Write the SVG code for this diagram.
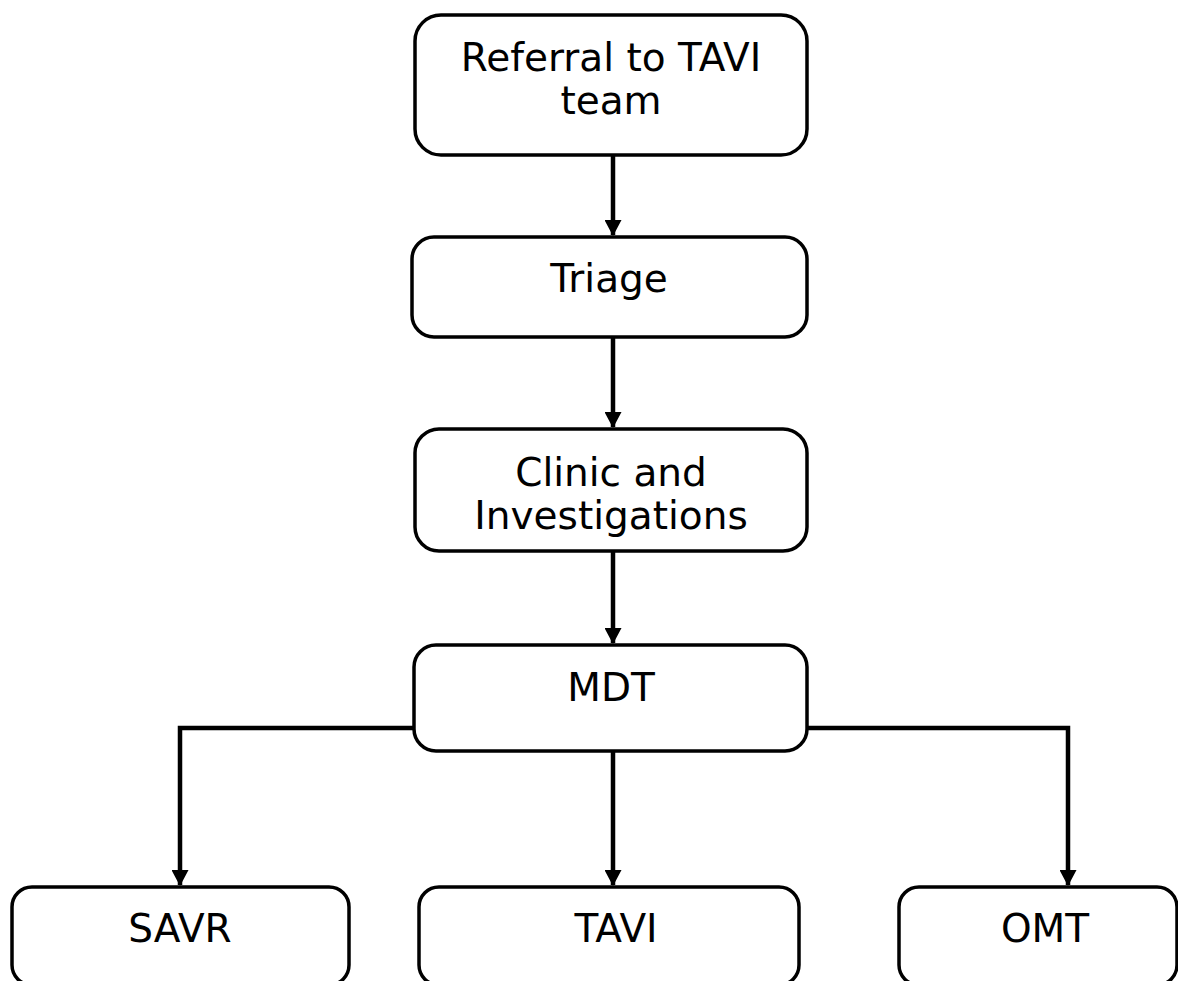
<svg xmlns="http://www.w3.org/2000/svg" width="1178" height="981" viewBox="0 0 1178 981">
<style>
.box{fill:#fff;stroke:#000;stroke-width:3.5}
.lbl{font-family:"DejaVu Sans",Verdana,sans-serif;font-size:39px;fill:#000;text-anchor:middle}
.conn{fill:none;stroke:#000;stroke-width:4.5}
</style>
<defs>
<marker id="ah" markerUnits="userSpaceOnUse" markerWidth="18" markerHeight="17" refX="15" refY="8.5" orient="auto" viewBox="0 0 16 17">
<path d="M0,0 L16,8.5 L0,17 Z" fill="#000"/>
</marker>
</defs>
<rect width="1178" height="981" fill="#fff"/>
<g id="connectors">
<path class="conn" d="M613,155 V235" marker-end="url(#ah)"/>
<path class="conn" d="M613,337 V427" marker-end="url(#ah)"/>
<path class="conn" d="M613,551 V643" marker-end="url(#ah)"/>
<path class="conn" d="M613,751 V885" marker-end="url(#ah)"/>
<path class="conn" d="M414,728 H180 V885" marker-end="url(#ah)"/>
<path class="conn" d="M807,728 H1068 V885" marker-end="url(#ah)"/>
</g>
<g id="referral">
<rect class="box" x="415" y="15" width="392" height="140" rx="26"/>
<text class="lbl" x="611" y="71">Referral to TAVI</text>
<text class="lbl" x="611" y="114">team</text>
</g>
<g id="triage">
<rect class="box" x="412" y="237" width="395" height="100" rx="22"/>
<text class="lbl" x="609" y="292">Triage</text>
</g>
<g id="clinic">
<rect class="box" x="415" y="429" width="392" height="122" rx="24"/>
<text class="lbl" x="611" y="486">Clinic and</text>
<text class="lbl" x="611" y="529">Investigations</text>
</g>
<g id="mdt">
<rect class="box" x="414" y="645" width="393" height="106" rx="22"/>
<text class="lbl" x="611" y="701">MDT</text>
</g>
<g id="savr">
<rect class="box" x="12" y="887" width="337" height="98" rx="20"/>
<text class="lbl" x="180" y="942">SAVR</text>
</g>
<g id="tavi">
<rect class="box" x="419" y="887" width="380" height="98" rx="20"/>
<text class="lbl" x="616" y="942">TAVI</text>
</g>
<g id="omt">
<rect class="box" x="899" y="887" width="278" height="98" rx="20"/>
<text class="lbl" x="1045" y="942">OMT</text>
</g>
</svg>
